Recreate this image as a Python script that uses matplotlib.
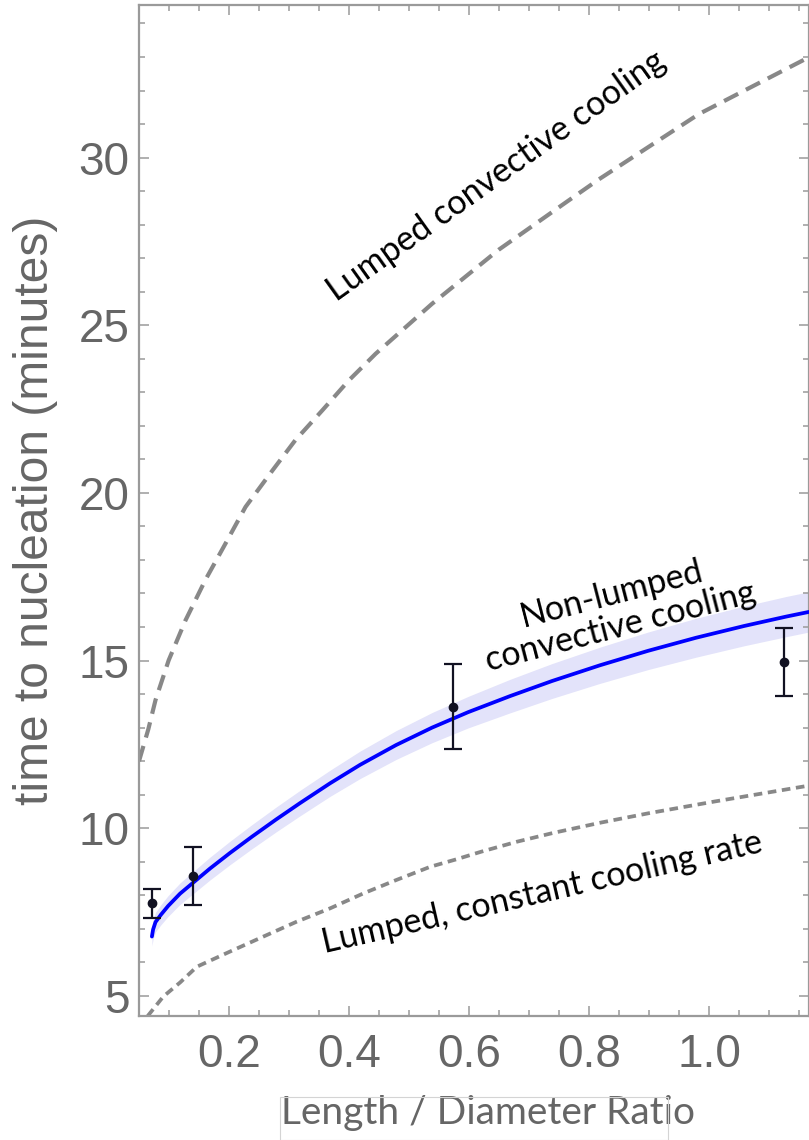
import matplotlib
matplotlib.use("Agg")
import matplotlib.pyplot as plt
from matplotlib.ticker import MultipleLocator, FixedLocator, FixedFormatter
from matplotlib.patches import Rectangle

# ---------------- data ----------------
# Non-lumped convective cooling (model curve) and its uncertainty band
fit_x = [0.071, 0.073, 0.077, 0.086, 0.098, 0.118, 0.140, 0.168, 0.201, 0.238, 0.278,
         0.318, 0.368, 0.418, 0.478, 0.538, 0.598, 0.668, 0.738, 0.818, 0.898,
         0.978, 1.058, 1.128, 1.166]
fit_y = [6.77, 6.98, 7.20, 7.42, 7.68, 8.05, 8.38, 8.80, 9.26, 9.75, 10.26,
         10.75, 11.34, 11.89, 12.48, 13.00, 13.46, 13.94, 14.39, 14.86, 15.29,
         15.68, 16.03, 16.31, 16.45]
fit_halfwidth = [0.28, 0.29, 0.29, 0.30, 0.31, 0.32, 0.33, 0.34, 0.35, 0.36, 0.37,
                 0.38, 0.39, 0.41, 0.43, 0.45, 0.47, 0.50, 0.52, 0.54, 0.56,
                 0.58, 0.59, 0.60, 0.60]

# Lumped convective cooling (dashed)
lumped_x = [0.0495, 0.065, 0.077, 0.099, 0.127, 0.160, 0.194, 0.227, 0.272, 0.310,
            0.355, 0.399, 0.444, 0.538, 0.649, 0.760, 0.816, 0.983, 1.166]
lumped_y = [12.0, 12.95, 13.82, 15.01, 16.20, 17.40, 18.50, 19.58, 20.67, 21.57,
            22.46, 23.35, 24.15, 25.64, 27.25, 28.65, 29.35, 31.30, 32.99]

# Lumped, constant cooling rate (dotted)
const_x = [0.064, 0.090, 0.118, 0.146, 0.201, 0.257, 0.312, 0.368, 0.424, 0.479,
           0.535, 0.578, 0.620, 0.680, 0.740, 0.820, 0.900, 1.010, 1.166]
const_y = [4.40, 4.98, 5.40, 5.87, 6.32, 6.77, 7.21, 7.61, 8.06, 8.46,
           8.85, 9.07, 9.30, 9.60, 9.86, 10.17, 10.45, 10.80, 11.27]

# Experimental points with error bars
exp_x = [0.072, 0.140, 0.573, 1.125]
exp_y = [7.755, 8.575, 13.62, 14.955]
exp_err = [0.44, 0.86, 1.27, 1.01]

xtick_vals = [0.2, 0.4, 0.6, 0.8, 1.0]
xtick_labels = ["0.2", "0.4", "0.6", "0.8", "1.0"]
ytick_vals = [5, 10, 15, 20, 25, 30]
ytick_labels = ["5", "10", "15", "20", "25", "30"]

# ---------------- figure ----------------
W, H = 809, 1140
fig = plt.figure(figsize=(W / 100, H / 100), dpi=100)
ax_l, ax_r, ax_t, ax_b = 139, 808.5, 5, 1016
ax = fig.add_axes([ax_l / W, 1 - ax_b / H, (ax_r - ax_l) / W, (ax_b - ax_t) / H])

ax.set_xlim(0.0495, 1.1655)
ax.set_ylim(4.4, 34.55)

band_lo = [y - h for y, h in zip(fit_y, fit_halfwidth)]
band_hi = [y + h for y, h in zip(fit_y, fit_halfwidth)]
ax.fill_between(fit_x, band_lo, band_hi, color="#e3e3fa", lw=0, zorder=1)
ax.plot(fit_x, fit_y, color="#0000ff", lw=2.7, solid_capstyle="round",
        solid_joinstyle="round", zorder=3)

ax.plot(lumped_x, lumped_y, color="#888888", lw=3.0, dashes=(3.8, 2.1),
        dash_capstyle="butt", zorder=2)
ax.plot(const_x, const_y, color="#888888", lw=2.7, dashes=(2.3, 1.5),
        dash_capstyle="butt", zorder=2)

ax.errorbar(exp_x, exp_y, yerr=exp_err, fmt="o", color="#111122", ms=6,
            elinewidth=1.6, capsize=6.5, capthick=1.6, zorder=4)

# spines and ticks
spine_col = "#9a9a9a"
for s in ax.spines.values():
    s.set_color(spine_col)
    s.set_linewidth(1.6)

ax.xaxis.set_major_locator(FixedLocator(xtick_vals))
ax.xaxis.set_major_formatter(FixedFormatter(xtick_labels))
ax.xaxis.set_minor_locator(MultipleLocator(0.05))
ax.yaxis.set_major_locator(FixedLocator(ytick_vals))
ax.yaxis.set_major_formatter(FixedFormatter(ytick_labels))
ax.yaxis.set_minor_locator(MultipleLocator(1))

ax.tick_params(which="both", direction="in", top=True, right=True,
               color=spine_col, width=1.1)
ax.tick_params(which="major", length=7.5)
ax.tick_params(which="minor", length=4.5)
ax.tick_params(axis="x", which="major", pad=12)
ax.tick_params(axis="y", which="major", pad=7)

for lab in ax.get_xticklabels() + ax.get_yticklabels():
    lab.set_fontfamily("Liberation Sans")
    lab.set_fontsize(33)
    lab.set_color("#666666")

ax.set_ylabel("time to nucleation (minutes)", family="Liberation Sans",
              fontsize=34.5, color="#666666")
ax.yaxis.label.set_verticalalignment("center")
ax.yaxis.set_label_coords((36 - ax_l) / (ax_r - ax_l), 0.5)

ax.set_xlabel("Length / Diameter Ratio", family="Lato", fontsize=28,
              color="#666666")
ax.xaxis.label.set_verticalalignment("center")
ax.xaxis.set_label_coords((488 - ax_l) / (ax_r - ax_l),
                          (ax_b - 1113) / (ax_b - ax_t))

# faint frame around the x label
fig.patches.append(Rectangle((280 / W, 0), (668 - 280) / W, (H - 1097) / H,
                             transform=fig.transFigure, fill=False,
                             edgecolor="#d4d4d4", lw=0.8))

# curve annotations
lab_kw = dict(family="Lato", fontsize=24.5, color="black", ha="center",
              va="center", rotation_mode="anchor", zorder=5)
ax.text(0.645, 29.45, "Lumped convective cooling", rotation=35.5, **lab_kw)
ax.text(0.845, 16.5, "Non-lumped\nconvective cooling", rotation=14.5,
        linespacing=1.1, **lab_kw)
ax.text(0.721, 8.07, "Lumped, constant cooling rate", rotation=13, **lab_kw)

fig.savefig("out.png", dpi=100)
